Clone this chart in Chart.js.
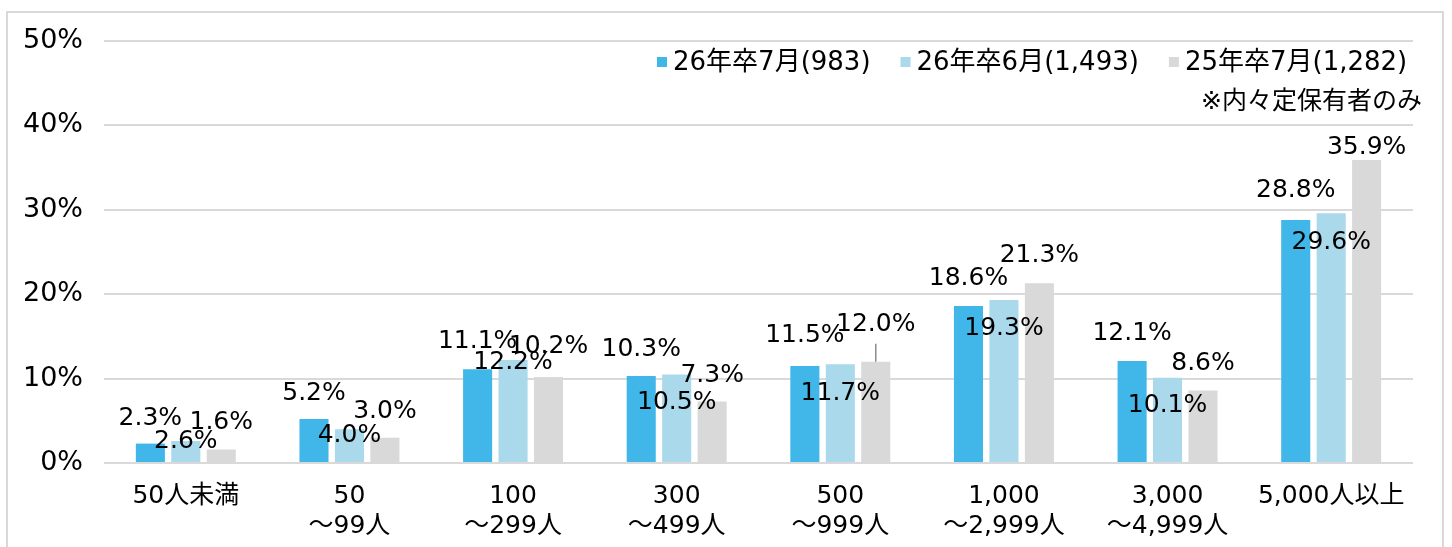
<!DOCTYPE html>
<html>
<head>
<meta charset="utf-8">
<script src="https://cdn.jsdelivr.net/npm/chart.js@4.4.1/dist/chart.umd.min.js"></script>
<style>
  html, body { margin: 0; padding: 0; background: #fff; }
  #caixa { width: 1452px; height: 547px; position: relative; }
</style>
</head>
<body>
<div id="caixa"><canvas id="grafico"></canvas></div>
<script>
// dados
const categorias = [['50人未満'], ['50', '～99人'], ['100', '～299人'], ['300', '～499人'],
  ['500', '～999人'], ['1,000', '～2,999人'], ['3,000', '～4,999人'], ['5,000人以上']];
const nomesSeries = ['26年卒7月(983)', '26年卒6月(1,493)', '25年卒7月(1,282)'];
const jul26 = [2.3, 5.2, 11.1, 10.3, 11.5, 18.6, 12.1, 28.8];
const jun26 = [2.6, 4.0, 12.2, 10.5, 11.7, 19.3, 10.1, 29.6];
const jul25 = [1.6, 3.0, 10.2, 7.3, 12.0, 21.3, 8.6, 35.9];
const nota = '※内々定保有者のみ';

// deslocamento dos rótulos acima do topo da barra (px)
const deslocJul26 = [25, 26, 28, 27, 30, 28, 27, 29];
const deslocJun26 = [0, -6, -2, -28, -29, -28, -28, -29];
const deslocJul25 = [27, 26, 30, 26, 37, 28, 27, 13];

const cores = ['#41B7E9', '#A9D9EB', '#D9D9D9'];
const fonte = '"DejaVu Sans", "Noto Sans CJK JP", sans-serif';

const pluginDesenho = {
  id: 'desenho',
  beforeDraw(chart) {
    const ctx = chart.ctx;
    ctx.save();
    ctx.strokeStyle = '#D9D9D9';
    ctx.lineWidth = 2;
    ctx.beginPath();
    ctx.moveTo(7, 560);
    ctx.lineTo(7, 12);
    ctx.lineTo(1443, 12);
    ctx.lineTo(1443, 560);
    ctx.stroke();
    ctx.restore();
  },
  afterDatasetsDraw(chart) {
    const ctx = chart.ctx;
    const deslocs = [deslocJul26, deslocJun26, deslocJul25];
    ctx.save();
    ctx.font = '25px ' + fonte;
    ctx.fillStyle = '#000';
    ctx.textAlign = 'center';
    ctx.textBaseline = 'middle';
    chart.data.datasets.forEach((ds, d) => {
      chart.getDatasetMeta(d).data.forEach((bar, i) => {
        const y = bar.y - deslocs[d][i];
        // linha guia do 12.0%
        if (deslocs[d][i] > 32) {
          ctx.strokeStyle = '#8C8C8C';
          ctx.lineWidth = 1.5;
          ctx.beginPath();
          ctx.moveTo(bar.x, bar.y);
          ctx.lineTo(bar.x, bar.y - 18);
          ctx.stroke();
        }
        ctx.fillText(ds.data[i].toFixed(1) + '%', bar.x, y);
      });
    });
    ctx.restore();
  },
  afterDraw(chart) {
    const ctx = chart.ctx;
    ctx.save();
    ctx.font = '26px ' + fonte;
    ctx.textBaseline = 'middle';
    let x = 657;
    chart.data.datasets.forEach((ds) => {
      ctx.fillStyle = ds.backgroundColor;
      ctx.fillRect(x, 57, 10, 10);
      ctx.fillStyle = '#000';
      ctx.textAlign = 'left';
      ctx.fillText(ds.label, x + 16, 63);
      x += 16 + ctx.measureText(ds.label).width + 30;
    });
    ctx.font = '25px ' + fonte;
    ctx.textAlign = 'right';
    ctx.fillText(nota, 1422, 102);
    ctx.restore();
  }
};

new Chart(document.getElementById('grafico'), {
  type: 'bar',
  data: {
    labels: categorias,
    datasets: [
      { label: nomesSeries[0], data: jul26, backgroundColor: cores[0] },
      { label: nomesSeries[1], data: jun26, backgroundColor: cores[1] },
      { label: nomesSeries[2], data: jul25, backgroundColor: cores[2] }
    ]
  },
  options: {
    responsive: true,
    maintainAspectRatio: false,
    animation: false,
    layout: { padding: { top: 41, right: 39, left: 0, bottom: 0 } },
    categoryPercentage: 0.65,
    barPercentage: 0.82,
    plugins: { legend: { display: false }, tooltip: { enabled: false } },
    scales: {
      x: {
        grid: { display: false },
        border: { display: false },
        ticks: { color: '#000', font: { family: fonte, size: 25, lineHeight: 1.2 }, padding: 10, maxRotation: 0, autoSkip: false },
        afterFit(scale) { scale.height = 84; }
      },
      y: {
        min: 0,
        max: 50,
        grid: { color: '#D9D9D9', lineWidth: 2, drawTicks: false },
        border: { display: false },
        ticks: { stepSize: 10, color: '#000', padding: 21, font: { family: fonte, size: 27 }, callback: v => v + '%' },
        afterFit(scale) { scale.width = 104; }
      }
    }
  },
  plugins: [pluginDesenho]
});
</script>
</body>
</html>
